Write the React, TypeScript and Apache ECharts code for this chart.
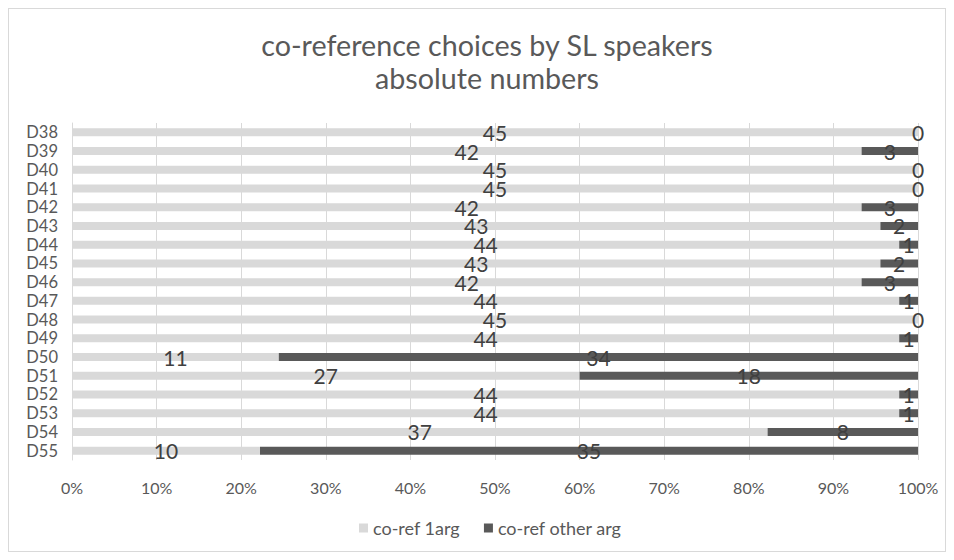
import React, { useEffect, useRef } from "react";
import * as echarts from "echarts";

const categories = ["D38","D39","D40","D41","D42","D43","D44","D45","D46","D47","D48","D49","D50","D51","D52","D53","D54","D55"];
const oneArg = [45,42,45,45,42,43,44,43,42,44,45,44,11,27,44,44,37,10];
const otherArg = [0,3,0,0,3,2,1,2,3,1,0,1,34,18,1,1,8,35];
const seriesNames = ["co-ref 1arg", "co-ref other arg"];
const xTicks = [0,10,20,30,40,50,60,70,80,90,100];

export default function App() {
  const ref = useRef<HTMLDivElement>(null);
  useEffect(() => {
    if (!ref.current) return;
    const chart = echarts.init(ref.current, null, { renderer: "svg" });
    const totals = oneArg.map((v, i) => v + otherArg[i]);
    const pct = (arr: number[]) => arr.map((v, i) => (v / totals[i]) * 100);
    const font = "Lato, 'Open Sans', sans-serif";
    const label = (raw: number[]) => ({
      show: true,
      position: "inside" as const,
      color: "#404040",
      fontSize: 21,
      fontFamily: font,
      formatter: (p: any) => String(raw[p.dataIndex]),
    });
    chart.setOption({
      animation: false,
      backgroundColor: "#fff",
      title: {
        text: "co-reference choices by SL speakers\nabsolute numbers",
        left: 473,
        top: 14,
        textAlign: "center",
        textStyle: { color: "#595959", fontSize: 28.7, fontWeight: "normal", fontFamily: font, lineHeight: 33 },
      },
      grid: { left: 63, right: 27, top: 114, bottom: 91, containLabel: false },
      xAxis: {
        type: "value",
        min: 0,
        max: 100,
        interval: 10,
        axisLabel: { formatter: (v: number) => (xTicks.includes(v) ? v + "%" : ""), color: "#595959", fontSize: 16, fontFamily: font, margin: 19 },
        axisLine: { show: false },
        axisTick: { show: false },
        splitLine: { show: true, lineStyle: { color: "#d9d9d9", width: 1 } },
      },
      yAxis: {
        type: "category",
        data: categories,
        inverse: true,
        axisLabel: { color: "#595959", fontSize: 16.5, fontFamily: font, margin: 14, interval: 0 },
        axisLine: { show: true, lineStyle: { color: "#d9d9d9" } },
        axisTick: { show: false },
      },
      legend: {
        bottom: 9,
        left: 345,
        itemWidth: 9,
        itemHeight: 9,
        itemGap: 24,
        icon: "rect",
        textStyle: { color: "#595959", fontSize: 18, fontFamily: font },
        data: seriesNames,
      },
      series: [
        {
          name: seriesNames[0],
          type: "bar",
          stack: "total",
          barWidth: 8,
          itemStyle: { color: "#d9d9d9" },
          label: label(oneArg),
          data: pct(oneArg),
        },
        {
          name: seriesNames[1],
          type: "bar",
          stack: "total",
          barWidth: 8,
          itemStyle: { color: "#595959" },
          label: label(otherArg),
          data: pct(otherArg),
        },
      ],
    });
    return () => chart.dispose();
  }, []);
  return (
    <div
      ref={ref}
      style={{ width: 936, height: 542, border: "1px solid #d9d9d9" }}
    />
  );
}
